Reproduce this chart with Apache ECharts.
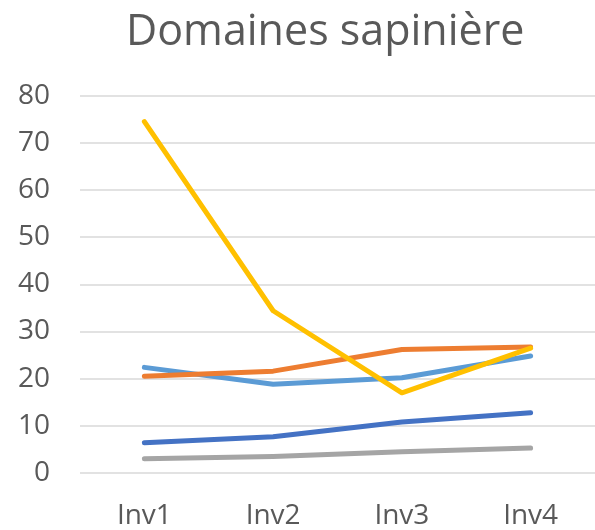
<!DOCTYPE html>
<html>
<head>
<meta charset="utf-8">
<script src="https://cdn.jsdelivr.net/npm/echarts@6/dist/echarts.min.js"></script>
<style>
  html, body { margin: 0; padding: 0; background: #fff; }
  #chart { width: 595px; height: 530px; }
</style>
</head>
<body>
<div id="chart"></div>
<script>
const categories = ["Inv1", "Inv2", "Inv3", "Inv4"];
const serieJaune = [74.5, 34.4, 17.0, 26.5];
const serieOrange = [20.5, 21.6, 26.2, 26.7];
const serieBleuClair = [22.4, 18.8, 20.2, 24.8];
const serieBleu = [6.4, 7.7, 10.8, 12.8];
const serieGris = [3.0, 3.5, 4.5, 5.3];

const font = "'Open Sans', sans-serif";

function ligne(data, color) {
  return {
    type: "line",
    data: data,
    symbol: "none",
    lineStyle: { color: color, width: 5, cap: "round", join: "round" },
    itemStyle: { color: color },
  };
}

const chart = echarts.init(document.getElementById("chart"));
chart.setOption({
  animation: false,
  title: {
    text: "Domaines sapinière",
    left: 121,
    top: 6,
    textStyle: { fontFamily: font, fontSize: 43, fontWeight: "normal", color: "#595959" },
  },
  grid: { left: 80, right: -14, top: 95.7, bottom: 55.3, containLabel: false },
  xAxis: {
    type: "category",
    data: categories,
    boundaryGap: true,
    axisTick: { show: false },
    axisLine: { show: false },
    axisLabel: { fontFamily: font, fontSize: 28, color: "#595959", margin: 29 },
  },
  yAxis: {
    type: "value",
    min: 0,
    max: 80,
    interval: 10,
    axisLine: { show: false },
    axisTick: { show: false },
    axisLabel: { fontFamily: font, fontSize: 28, color: "#595959", margin: 30 },
    splitLine: { lineStyle: { color: "#D9D9D9", width: 1.5 } },
  },
  series: [
    ligne(serieGris, "#A5A5A5"),
    ligne(serieBleu, "#4472C4"),
    ligne(serieBleuClair, "#5B9BD5"),
    ligne(serieOrange, "#ED7D31"),
    ligne(serieJaune, "#FFC000"),
  ],
});
</script>
</body>
</html>
